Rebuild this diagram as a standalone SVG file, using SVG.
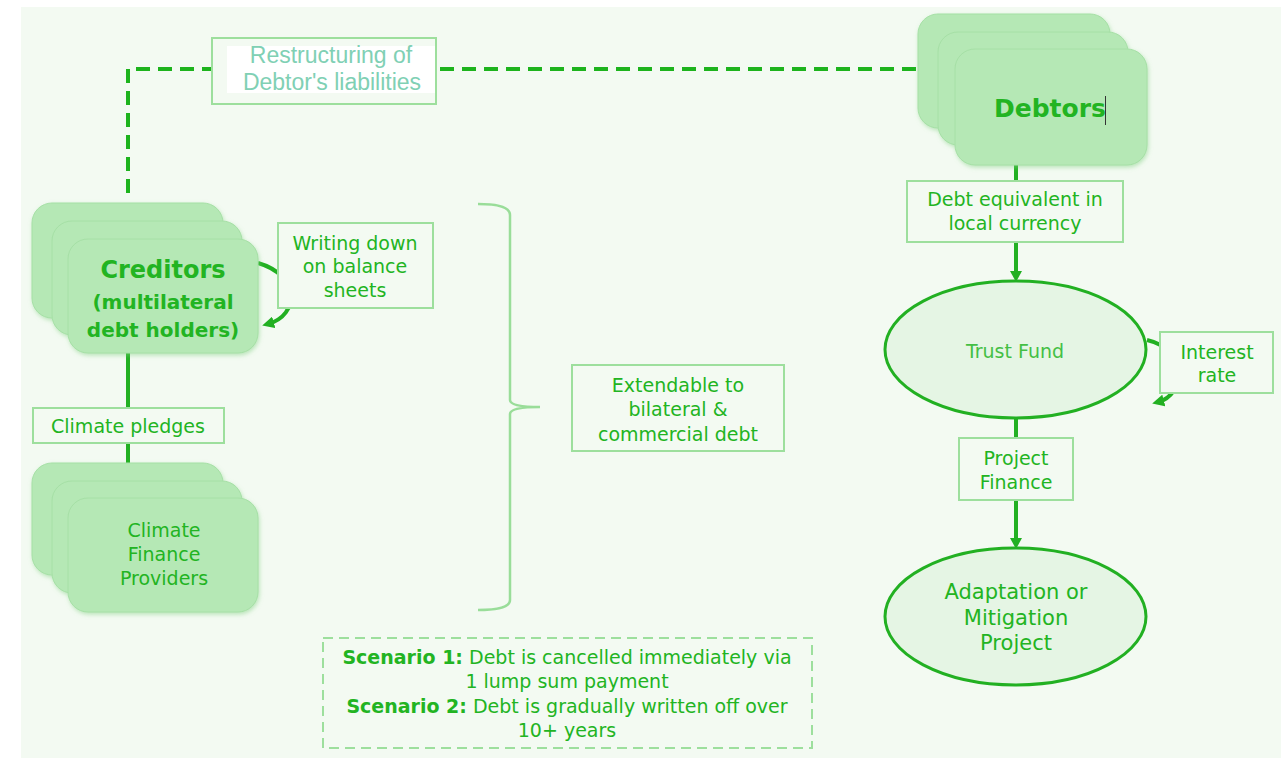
<svg xmlns="http://www.w3.org/2000/svg" width="1281" height="758" viewBox="0 0 1281 758">
<defs>
<style>
.bg{fill:#f3faf2}
.stk{fill:#b5e8b5;stroke:#a6e0a6;stroke-width:1}
.box{fill:#f3faf2;stroke:#9ddf9d;stroke-width:2}
.t{font-family:"DejaVu Sans","Liberation Sans",sans-serif;fill:#22b422;text-anchor:middle}
.b{font-weight:bold}
.ell{fill:#e5f5e4;stroke:#22b022;stroke-width:3}
.con{fill:none;stroke:#22b022;stroke-width:4}
.rs{font-family:"Liberation Sans","Open Sans",sans-serif;font-size:23px;fill:#80d0b4;text-anchor:middle}
</style>
<marker id="ca" viewBox="0 0 10 10" refX="5" refY="5" markerWidth="12" markerHeight="12" markerUnits="userSpaceOnUse" orient="auto">
<path d="M0,0 L10,5 L0,10 Z" fill="#22b022"/>
</marker>
<filter id="sh" x="-10%" y="-10%" width="130%" height="130%">
<feDropShadow dx="1" dy="2" stdDeviation="2" flood-color="#7fcf7f" flood-opacity="0.5"/>
</filter>
</defs>
<rect class="bg" x="21" y="7" width="1260" height="751"/>

<g id="connectors">
<path d="M128,193 V69 H212" fill="none" stroke="#1db31d" stroke-width="4" stroke-dasharray="14,8"/>
<path d="M440,69 H920" fill="none" stroke="#1db31d" stroke-width="4" stroke-dasharray="14,8"/>
<line class="con" x1="128" y1="353" x2="128" y2="408"/>
<line class="con" x1="128" y1="443" x2="128" y2="463"/>
<line class="con" x1="1016" y1="165" x2="1016" y2="181"/>
<line class="con" x1="1016" y1="242" x2="1016" y2="273"/>
<line class="con" x1="1016" y1="418" x2="1016" y2="438"/>
<line class="con" x1="1016" y1="500" x2="1016" y2="540"/>
<path d="M1010,271 L1016,282 L1022,271 Z" fill="#22b022"/>
<path d="M1010,538 L1016,549 L1022,538 Z" fill="#22b022"/>
<path class="con" d="M258,263 C300,275 300,315 268,324" marker-end="url(#ca)"/>
<path class="con" d="M1147,340 C1190,350 1185,395 1158,402" marker-end="url(#ca)"/>
<path d="M478,204 Q510,204 510,215 V400 Q510,407 540,407 Q510,407 510,414 V600 Q510,610 478,610" fill="none" stroke="#99dd99" stroke-width="2.5"/>
</g>

<g id="restructuring">
<rect class="box" x="212" y="38" width="224" height="66"/>
<rect x="227" y="46" width="208" height="47" fill="#ffffff"/>
<text class="rs" x="331" y="63">Restructuring of</text>
<text class="rs" x="332" y="90">Debtor's liabilities</text>
</g>

<g id="debtors" filter="url(#sh)">
<rect class="stk" x="918" y="14" width="192" height="114" rx="20"/>
<rect class="stk" x="938" y="32" width="190" height="113" rx="20"/>
<rect class="stk" x="955" y="49" width="192" height="116" rx="20"/>
</g>
<g id="debtors-label">
<text class="t b" x="1050" y="117" font-size="25">Debtors</text>
<line x1="1105.5" y1="96" x2="1105.5" y2="125" stroke="#333" stroke-width="1"/>
</g>

<g id="debt-equivalent">
<rect class="box" x="907" y="181" width="216" height="61"/>
<text class="t" x="1015" y="206" font-size="19">Debt equivalent in</text>
<text class="t" x="1015" y="230" font-size="19">local currency</text>
</g>

<g id="trust-fund">
<ellipse class="ell" cx="1015.5" cy="349.5" rx="130.5" ry="68.5"/>
<text class="t" x="1015" y="358" font-size="19" style="fill:#44bf44">Trust Fund</text>
</g>

<g id="interest-rate">
<rect class="box" x="1160" y="332" width="113" height="61"/>
<text class="t" x="1217" y="359" font-size="19">Interest</text>
<text class="t" x="1217" y="382" font-size="19">rate</text>
</g>

<g id="project-finance">
<rect class="box" x="959" y="438" width="114" height="62"/>
<text class="t" x="1016" y="465" font-size="19">Project</text>
<text class="t" x="1016" y="489" font-size="19">Finance</text>
</g>

<g id="adaptation">
<ellipse class="ell" cx="1015.5" cy="616.5" rx="130.5" ry="68.5"/>
<text class="t" x="1016" y="599" font-size="21">Adaptation or</text>
<text class="t" x="1016" y="625" font-size="21">Mitigation</text>
<text class="t" x="1016" y="650" font-size="21">Project</text>
</g>

<g id="creditors" filter="url(#sh)">
<rect class="stk" x="32" y="203" width="191" height="115" rx="20"/>
<rect class="stk" x="52" y="221" width="190" height="114" rx="20"/>
<rect class="stk" x="68" y="239" width="190" height="114" rx="20"/>
</g>
<g id="creditors-label">
<text class="t b" x="163" y="278" font-size="24">Creditors</text>
<text class="t b" x="163" y="309" font-size="20">(multilateral</text>
<text class="t b" x="163" y="337" font-size="20">debt holders)</text>
</g>

<g id="writing-down">
<rect class="box" x="278" y="223" width="155" height="85"/>
<text class="t" x="355" y="250" font-size="19">Writing down</text>
<text class="t" x="355" y="273" font-size="19">on balance</text>
<text class="t" x="355" y="297" font-size="19">sheets</text>
</g>

<g id="climate-pledges">
<rect class="box" x="33" y="408" width="191" height="35"/>
<text class="t" x="128" y="433" font-size="19">Climate pledges</text>
</g>

<g id="providers" filter="url(#sh)">
<rect class="stk" x="32" y="463" width="191" height="112" rx="20"/>
<rect class="stk" x="52" y="481" width="190" height="112" rx="20"/>
<rect class="stk" x="68" y="498" width="190" height="114" rx="20"/>
</g>
<g id="providers-label">
<text class="t" x="164" y="537" font-size="19">Climate</text>
<text class="t" x="164" y="561" font-size="19">Finance</text>
<text class="t" x="164" y="585" font-size="19">Providers</text>
</g>

<g id="extendable">
<rect class="box" x="572" y="365" width="212" height="86"/>
<text class="t" x="678" y="392" font-size="19">Extendable to</text>
<text class="t" x="678" y="416" font-size="19">bilateral &amp;</text>
<text class="t" x="678" y="441" font-size="19">commercial debt</text>
</g>

<g id="scenarios">
<rect x="323" y="638" width="489" height="110" fill="none" stroke="#9ddf9d" stroke-width="2" stroke-dasharray="10,6"/>
<text class="t" x="567" y="664" font-size="19"><tspan class="b">Scenario 1:</tspan> Debt is cancelled immediately via</text>
<text class="t" x="567" y="688" font-size="19">1 lump sum payment</text>
<text class="t" x="567" y="713" font-size="19"><tspan class="b">Scenario 2:</tspan> Debt is gradually written off over</text>
<text class="t" x="567" y="737" font-size="19">10+ years</text>
</g>
</svg>
